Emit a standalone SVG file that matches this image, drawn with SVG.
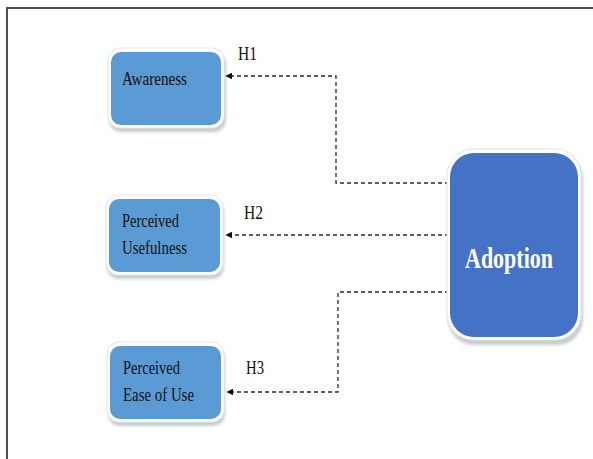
<svg xmlns="http://www.w3.org/2000/svg" width="593" height="459" viewBox="0 0 593 459">
  <style>
    .frame { stroke: #4d4d4d; stroke-width: 2; fill: none; }
    .halo { fill: #ffffff; stroke: #e2e6ea; stroke-width: 1; }
    .shadow { fill: #9aa3ad; opacity: 0.55; filter: url(#soft); }
    .small { fill: #5b9bd5; }
    .main { fill: #4472c4; }
    .label { font-family: "Liberation Serif", "Times New Roman", serif; font-size: 18px; fill: #111111; }
    .hyp { font-family: "Liberation Serif", "Times New Roman", serif; font-size: 19px; fill: #111111; }
    .title { font-family: "Liberation Serif", "Times New Roman", serif; font-size: 30px; font-weight: bold; fill: #ffffff; }
    .link { fill: none; stroke: #2b2b2b; stroke-width: 1.3; stroke-dasharray: 4 3; }
  </style>
  <defs>
    <filter id="soft" x="-10%" y="-10%" width="120%" height="130%">
      <feGaussianBlur stdDeviation="1.5"/>
    </filter>
    <marker id="arrow" viewBox="0 0 10 10" refX="9" refY="5" markerWidth="7" markerHeight="7" markerUnits="userSpaceOnUse" orient="auto">
      <path d="M0,0 L10,5 L0,10 Z" fill="#111111"/>
    </marker>
  </defs>

  <!-- outer frame: top and left rules only -->
  <path class="frame" d="M7,459 V8 H593"/>

  <!-- connectors -->
  <g id="connectors">
    <path class="link" d="M449,183 H336 V76 H226" marker-end="url(#arrow)"/>
    <path class="link" d="M449,235 H226" marker-end="url(#arrow)"/>
    <path class="link" d="M449,292 H338 V392 H227" marker-end="url(#arrow)"/>
    <text class="hyp" x="238" y="60" textLength="19" lengthAdjust="spacingAndGlyphs">H1</text>
    <text class="hyp" x="244" y="219" textLength="19" lengthAdjust="spacingAndGlyphs">H2</text>
    <text class="hyp" x="246" y="374" textLength="18" lengthAdjust="spacingAndGlyphs">H3</text>
  </g>

  <g id="awareness">
    <rect class="shadow" x="109" y="52" width="117" height="80" rx="12"/>
    <rect class="halo" x="108" y="48" width="116" height="80" rx="12"/>
    <rect class="small" x="111" y="52" width="110" height="73" rx="10"/>
    <text class="label" x="122" y="85" textLength="65" lengthAdjust="spacingAndGlyphs">Awareness</text>
  </g>

  <g id="usefulness">
    <rect class="shadow" x="107" y="199" width="117" height="80" rx="12"/>
    <rect class="halo" x="106" y="195" width="117" height="80" rx="12"/>
    <rect class="small" x="109" y="199" width="111" height="73" rx="10"/>
    <text class="label" x="122" y="227" textLength="57" lengthAdjust="spacingAndGlyphs">Perceived</text>
    <text class="label" x="122" y="254" textLength="65" lengthAdjust="spacingAndGlyphs">Usefulness</text>
  </g>

  <g id="ease-of-use">
    <rect class="shadow" x="108" y="346" width="117" height="80" rx="12"/>
    <rect class="halo" x="107" y="342" width="117" height="80" rx="12"/>
    <rect class="small" x="110" y="346" width="111" height="73" rx="10"/>
    <text class="label" x="123" y="374" textLength="57" lengthAdjust="spacingAndGlyphs">Perceived</text>
    <text class="label" x="123" y="401" textLength="71" lengthAdjust="spacingAndGlyphs">Ease of Use</text>
  </g>

  <g id="adoption">
    <rect class="shadow" x="448" y="153" width="135" height="192" rx="26"/>
    <rect class="halo" x="447" y="149" width="134" height="191" rx="26"/>
    <rect class="main" x="450" y="153" width="128" height="184" rx="24"/>
    <text class="title" x="465" y="268" textLength="88" lengthAdjust="spacingAndGlyphs">Adoption</text>
  </g>
</svg>
